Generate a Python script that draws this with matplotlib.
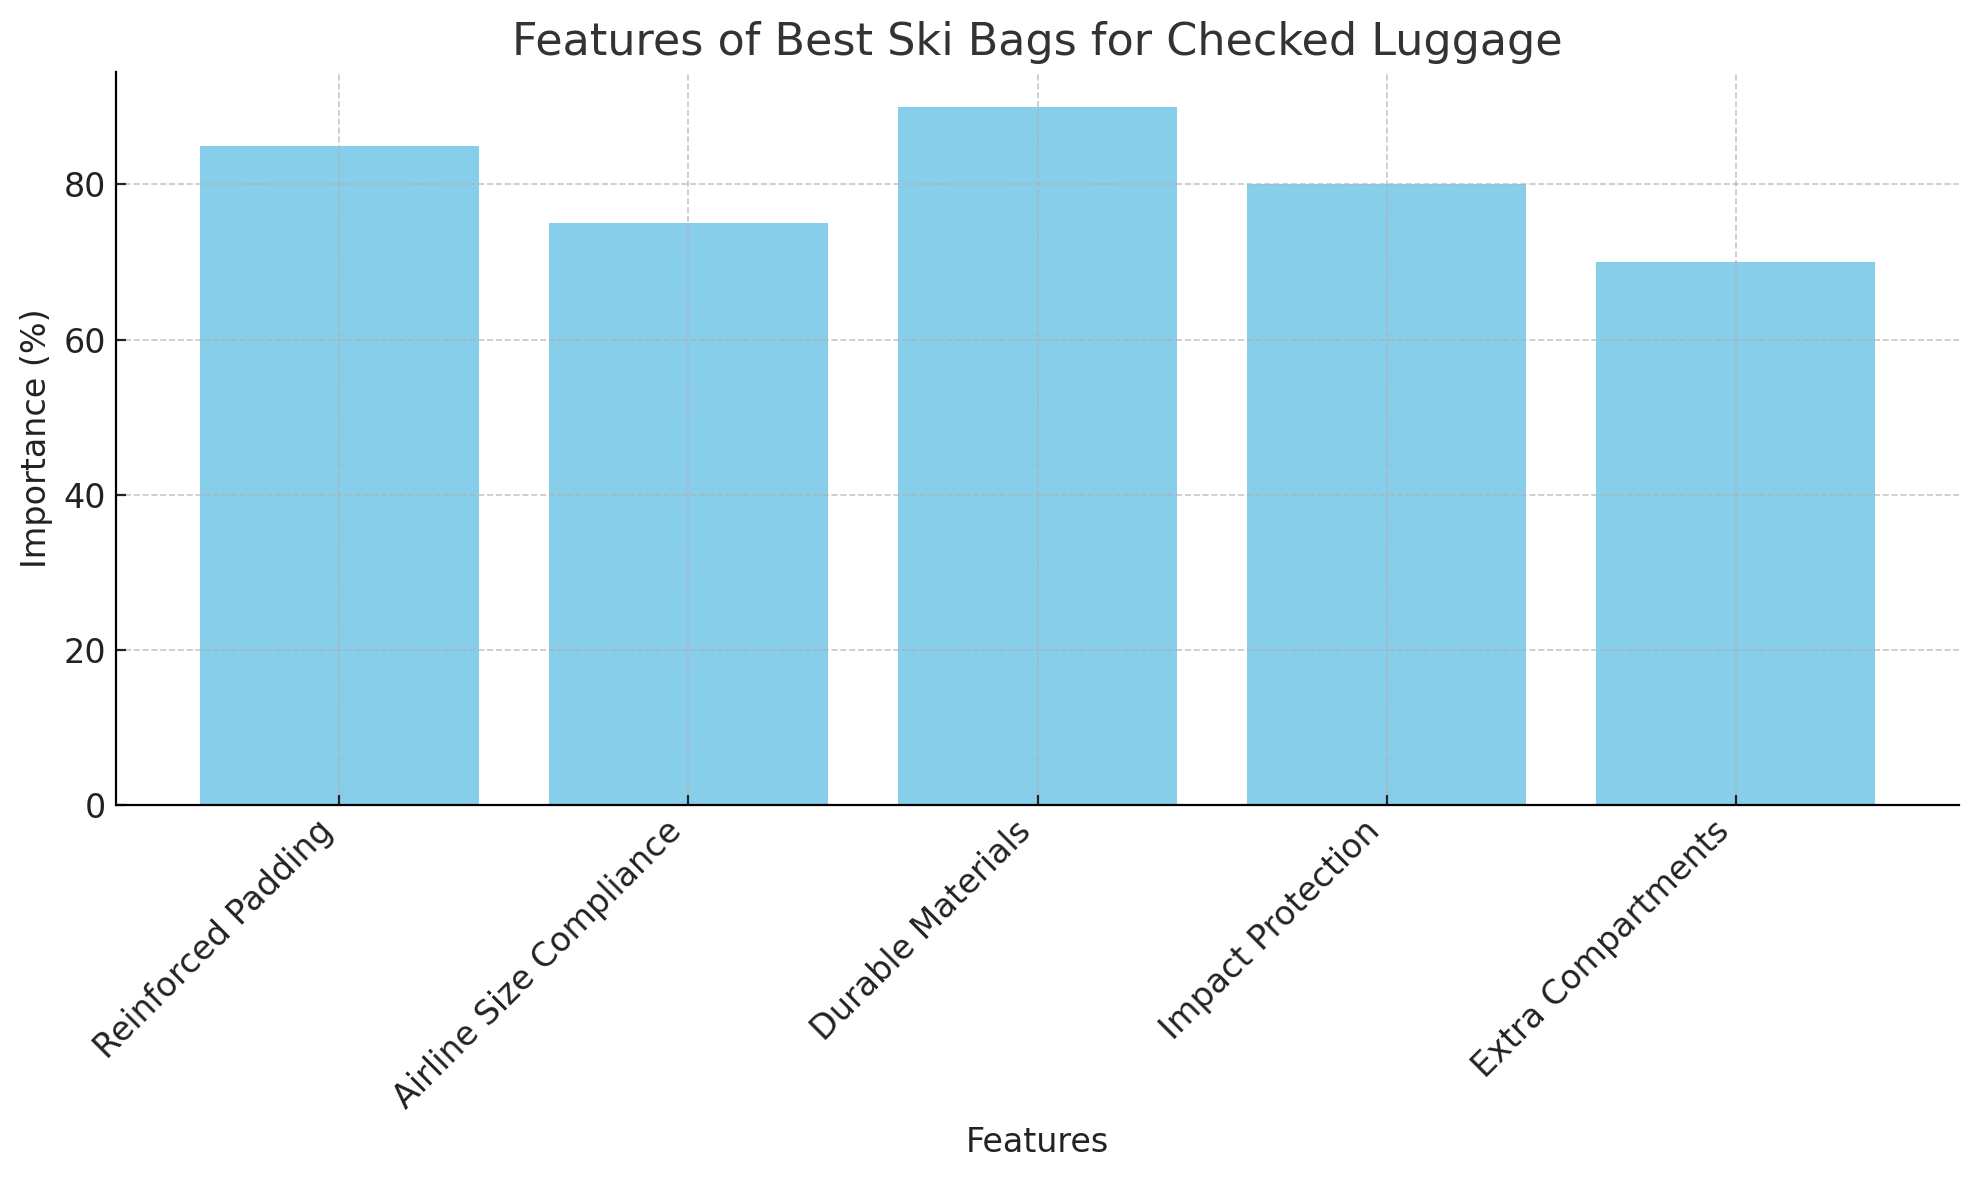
import matplotlib
matplotlib.use("Agg")
import matplotlib.pyplot as plt

features = ["Reinforced Padding", "Airline Size Compliance", "Durable Materials",
            "Impact Protection", "Extra Compartments"]
importance = [85, 75, 90, 80, 70]

fig = plt.figure(figsize=(9.895, 5.9), dpi=200)
ax = fig.add_axes([0.0586, 0.318, 0.9314, 0.621])
ax.bar(features, importance, color="skyblue")
ax.grid(True, linestyle="--", color="#b0b0b0", linewidth=0.6, alpha=0.7)
for s in ["top", "right"]:
    ax.spines[s].set_visible(False)
ax.set_title("Features of Best Ski Bags for Checked Luggage", fontsize=16, color="#333333")
ax.set_xlabel("Features", fontsize=12, color="#222222")
ax.set_ylabel("Importance (%)", fontsize=12, color="#222222")
ax.tick_params(labelsize=12, direction="in", colors="#222222")
plt.setp(ax.get_xticklabels(), rotation=45, ha="right")
fig.savefig("out.png", dpi=200)
